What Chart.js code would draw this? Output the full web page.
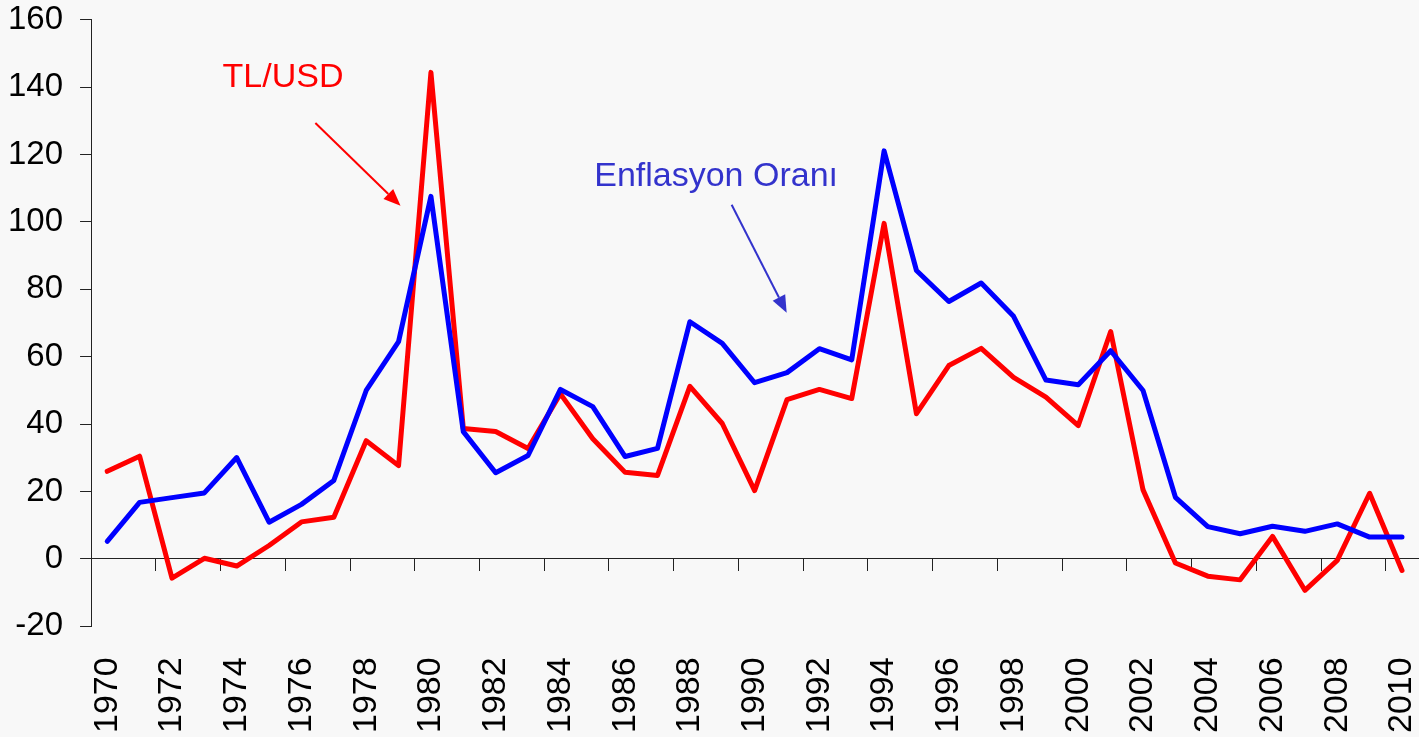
<!DOCTYPE html>
<html>
<head>
<meta charset="utf-8">
<script src="https://cdn.jsdelivr.net/npm/chart.js@4"></script>
<style>
  html, body { margin: 0; padding: 0; background: #f8f8f8; overflow: hidden; }
  .wrap { width: 1419px; height: 737px; position: relative; }
</style>
</head>
<body>
<div class="wrap"><canvas id="c"></canvas></div>
<script>
// yillar
var years = [];
for (var y = 1970; y <= 2010; y++) years.push(String(y));

// TL/USD degisim (%)
var tlUsd = [26, 30.5, -5.7, 0.2, -2.1, 4, 11, 12.4, 35.1, 27.7,
  144.4, 38.7, 37.8, 32.8, 49, 35.7, 25.7, 24.8, 51.2, 40.2,
  20.3, 47.3, 50.3, 47.6, 99.6, 43.1, 57.4, 62.5, 53.9, 48,
  39.6, 67.5, 20.5, -1.2, -5.1, -6.2, 6.7, -9.3, -0.4, 19.5, -3.4];

// enflasyon orani (%)
var enflasyon = [5.2, 16.8, 18.2, 19.6, 30.1, 10.9, 16.2, 23.3, 50, 64.5,
  107.6, 37.8, 25.6, 30.7, 50.3, 45.2, 30.4, 32.8, 70.4, 64,
  52.3, 55.3, 62.4, 59.1, 121.1, 85.6, 76.4, 81.9, 72, 53.1,
  51.7, 61.8, 50, 18.3, 9.6, 7.5, 9.7, 8.2, 10.4, 6.5, 6.5];

var yTicks = { min: -20, max: 160, step: 20 };

var FONT = "'Liberation Sans', Arial, sans-serif";
var AXIS = "#222222";
var NONE = "rgba(0,0,0,0)";

// etiketler ve oklar (x: yil indeksi, y: deger)
var notes = [
  { text: "TL/USD", color: "#ff0000", x: 5.43, y: 140.1, from: [6.43, 129.4], to: [9.06, 104.8] },
  { text: "Enflasyon Oranı", color: "#3333cc", x: 18.81, y: 110.8, from: [19.29, 105.1], to: [20.99, 73.1] }
];

var notePlugin = {
  id: "notes",
  afterDatasetsDraw: function(chart) {
    var ctx = chart.ctx, xs = chart.scales.x, ys = chart.scales.y;
    ctx.save();
    notes.forEach(function(n) {
      ctx.fillStyle = n.color;
      ctx.strokeStyle = n.color;
      ctx.font = "34px " + FONT;
      ctx.textAlign = "center";
      ctx.textBaseline = "alphabetic";
      ctx.fillText(n.text, xs.getPixelForValue(n.x), ys.getPixelForValue(n.y));

      var x1 = xs.getPixelForValue(n.from[0]), y1 = ys.getPixelForValue(n.from[1]);
      var x2 = xs.getPixelForValue(n.to[0]), y2 = ys.getPixelForValue(n.to[1]);
      var a = Math.atan2(y2 - y1, x2 - x1), head = 17, half = 7;
      var bx = x2 - head * Math.cos(a), by = y2 - head * Math.sin(a);
      ctx.lineWidth = 2;
      ctx.beginPath();
      ctx.moveTo(x1, y1);
      ctx.lineTo(bx, by);
      ctx.stroke();
      ctx.beginPath();
      ctx.moveTo(x2, y2);
      ctx.lineTo(bx + half * Math.sin(a), by - half * Math.cos(a));
      ctx.lineTo(bx - half * Math.sin(a), by + half * Math.cos(a));
      ctx.closePath();
      ctx.fill();
    });
    ctx.restore();
  }
};

var lineStyle = { borderWidth: 5, pointRadius: 0, tension: 0, borderCapStyle: "round", borderJoinStyle: "round", xAxisID: "x" };

new Chart(document.getElementById("c"), {
  type: "line",
  data: {
    labels: years,
    datasets: [
      // mavi ustte
      Object.assign({ label: "Enflasyon Oranı", data: enflasyon, borderColor: "#0000ff" }, lineStyle),
      Object.assign({ label: "TL/USD", data: tlUsd, borderColor: "#ff0000" }, lineStyle)
    ]
  },
  options: {
    responsive: true,
    maintainAspectRatio: false,
    animation: false,
    layout: { padding: { left: 8, right: 0, top: 0, bottom: 4 } },
    plugins: { legend: { display: false }, tooltip: { enabled: false } },
    scales: {
      // alttaki yil etiketleri (bos tick boslugu etiketleri asagi iter)
      x: {
        type: "category",
        position: "bottom",
        offset: true,
        border: { display: false },
        grid: { display: true, drawOnChartArea: false, drawTicks: true, tickLength: 31, color: NONE, tickColor: NONE },
        ticks: {
          autoSkip: false,
          minRotation: 90,
          maxRotation: 90,
          padding: 0,
          color: "#000",
          font: { family: FONT, size: 34, lineHeight: 0.5 },
          callback: function(v, i) { return i % 2 === 0 ? this.getLabelForValue(v) : ""; }
        }
      },
      // sifir cizgisi ve cizgileri
      x0: {
        type: "category",
        labels: years,
        position: { y: 0 },
        offset: true,
        border: { display: true, color: AXIS, width: 1 },
        grid: {
          offset: true,
          drawOnChartArea: false,
          drawTicks: true,
          tickLength: 12,
          color: function(c) { return c.index % 2 === 0 ? AXIS : NONE; }
        },
        ticks: { display: false }
      },
      y: {
        min: yTicks.min,
        max: yTicks.max,
        border: { display: true, color: AXIS, width: 1 },
        // 28px tick: ilk 17px bos, son 11px cizgi
        grid: { drawOnChartArea: false, drawTicks: true, tickLength: 28, color: AXIS, tickBorderDash: [0, 17, 11, 100] },
        ticks: {
          stepSize: yTicks.step,
          padding: 0,
          color: "#000",
          font: { family: FONT, size: 33 }
        }
      }
    }
  },
  plugins: [notePlugin]
});
</script>
</body>
</html>
